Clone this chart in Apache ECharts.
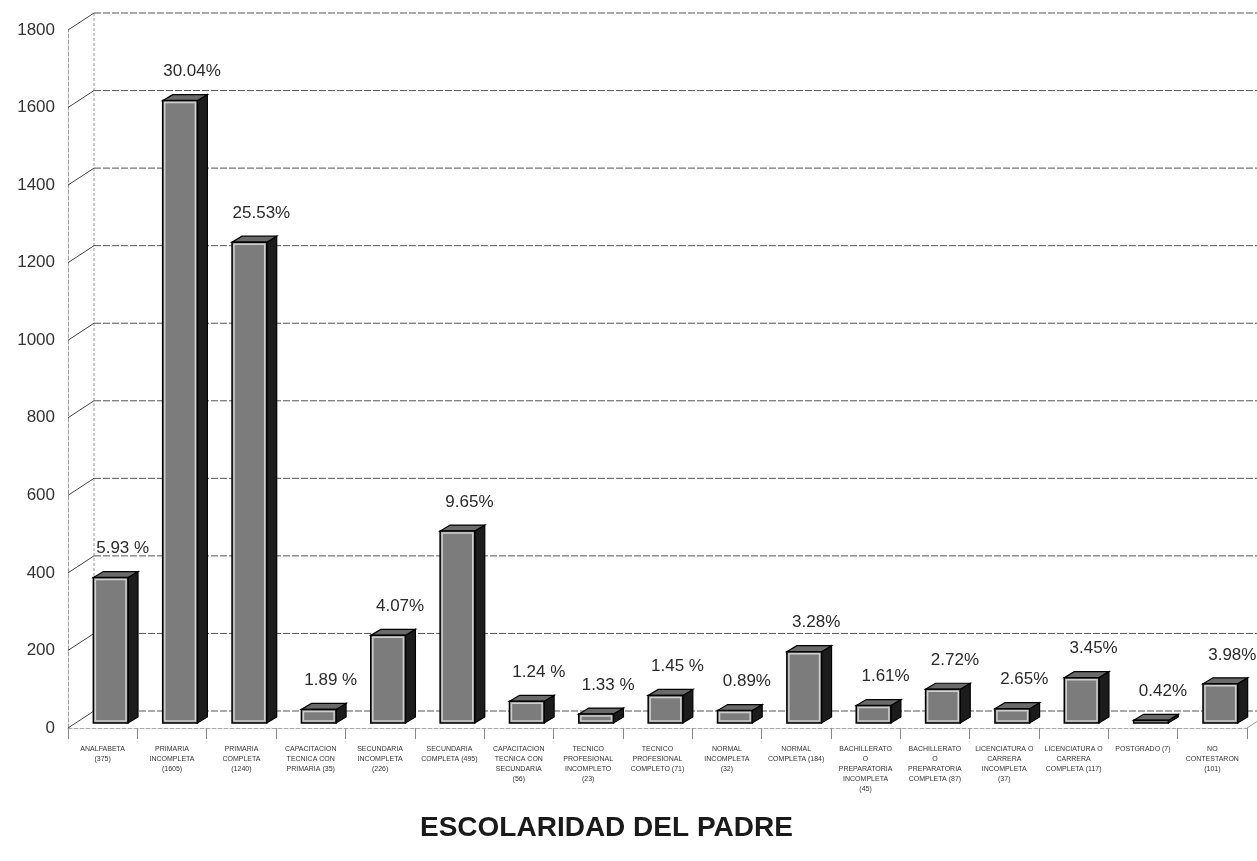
<!DOCTYPE html>
<html><head><meta charset="utf-8">
<script src="https://cdn.jsdelivr.net/npm/echarts@6/dist/echarts.min.js"></script>
<style>html,body{margin:0;padding:0;background:#fff}#c{width:1257px;height:861px}</style>
</head><body><div id="c"></div>
<script>
const categories = [
  "ANALFABETA\n(375)",
  "PRIMARIA\nINCOMPLETA\n(1605)",
  "PRIMARIA\nCOMPLETA\n(1240)",
  "CAPACITACION\nTECNICA CON\nPRIMARIA (35)",
  "SECUNDARIA\nINCOMPLETA\n(226)",
  "SECUNDARIA\nCOMPLETA (495)",
  "CAPACITACION\nTECNICA CON\nSECUNDARIA\n(56)",
  "TECNICO\nPROFESIONAL\nINCOMPLETO\n(23)",
  "TECNICO\nPROFESIONAL\nCOMPLETO (71)",
  "NORMAL\nINCOMPLETA\n(32)",
  "NORMAL\nCOMPLETA (184)",
  "BACHILLERATO\nO\nPREPARATORIA\nINCOMPLETA\n(45)",
  "BACHILLERATO\nO\nPREPARATORIA\nCOMPLETA (87)",
  "LICENCIATURA O\nCARRERA\nINCOMPLETA\n(37)",
  "LICENCIATURA O\nCARRERA\nCOMPLETA (117)",
  "POSTGRADO (7)",
  "NO\nCONTESTARON\n(101)"
];
const values = [375, 1605, 1240, 35, 226, 495, 56, 23, 71, 32, 184, 45, 87, 37, 117, 7, 101];
const percentLabels = ["5.93 %", "30.04%", "25.53%", "1.89 %", "4.07%", "9.65%", "1.24 %", "1.33 %", "1.45 %", "0.89%", "3.28%", "1.61%", "2.72%", "2.65%", "3.45%", "0.42%", "3.98%"];
const yTicks = [0, 200, 400, 600, 800, 1000, 1200, 1400, 1600, 1800];
const chartTitle = "ESCOLARIDAD DEL PADRE";

const WALL_DX = 26, WALL_DY = -17;
const FONT = '"Liberation Sans", Arial, sans-serif';
const chart = echarts.init(document.getElementById('c'));

function wallItem(params, api) {
  const t = api.value(1);
  const p = api.coord([0, t]);
  const band = api.size([1, 0])[0];
  const cs = params.coordSys;
  const xl = p[0] - band / 2;
  const children = [];
  const lineStyle = { stroke: '#555', lineWidth: 1, lineDash: [7, 2] };
  children.push({ type: 'line', shape: { x1: xl, y1: p[1], x2: xl + WALL_DX, y2: p[1] + WALL_DY }, style: { stroke: '#444', lineWidth: 1 } });
  children.push({ type: 'line', shape: { x1: xl + WALL_DX, y1: p[1] + WALL_DY, x2: cs.x + cs.width + 30, y2: p[1] + WALL_DY }, style: lineStyle });
  if (t === 0) {
    const pTop = api.coord([0, yTicks[yTicks.length - 1]]);
    children.push({ type: 'line', shape: { x1: xl + WALL_DX, y1: pTop[1] + WALL_DY, x2: xl + WALL_DX, y2: p[1] + WALL_DY }, style: { stroke: '#999', lineWidth: 1, lineDash: [3, 2] } });
    const xr = cs.x + cs.width;
    children.push({ type: 'line', shape: { x1: xr, y1: p[1], x2: xr + WALL_DX, y2: p[1] + WALL_DY }, style: { stroke: '#999', lineWidth: 1 } });
  }
  return { type: 'group', children };
}

function barItem(params, api) {
  const i = api.value(0), v = api.value(1);
  const top = api.coord([i, v]);
  const base = api.coord([i, 0]);
  const band = api.size([1, 0])[0];
  const w = band * 0.5;
  const ox = 8, oy = -5, dx = 10, dy = -6;
  const x0 = top[0] + ox - w / 2, x1 = x0 + w;
  const yT = top[1] + oy, yB = base[1] + oy;
  const h = yB - yT;
  const children = [
    { type: 'polygon', shape: { points: [[x1, yB], [x1, yT], [x1 + dx, yT + dy], [x1 + dx, yB + dy]] }, style: { fill: '#1c1c1c', stroke: '#000', lineWidth: 1.2 } },
    { type: 'polygon', shape: { points: [[x0, yT], [x1, yT], [x1 + dx, yT + dy], [x0 + dx, yT + dy]] }, style: { fill: '#6a6a6a', stroke: '#000', lineWidth: 1.2 } },
    { type: 'rect', shape: { x: x0, y: yT, width: w, height: h }, style: { fill: '#7c7c7c', stroke: '#000', lineWidth: 1.5 } }
  ];
  if (h > 6) {
    children.push({ type: 'rect', shape: { x: x0 + 2, y: yT + 2, width: w - 4, height: h - 4 }, style: { fill: 'none', stroke: '#cfcfcf', lineWidth: 1.5 } });
  }
  children.push({ type: 'text', style: { text: percentLabels[i], x: x0 + w / 2 + 12, y: yT - 29, align: 'center', verticalAlign: 'middle', font: '17px ' + FONT, fill: '#2a2a2a' } });
  return { type: 'group', children };
}

chart.setOption({
  animation: false,
  backgroundColor: '#fff',
  graphic: [{
    type: 'text', x: 420, y: 828,
    style: { text: chartTitle, x: 0, y: 0, align: 'left', verticalAlign: 'middle', font: 'bold 28px ' + FONT, fill: '#1a1a1a' }
  }],
  grid: { left: 68, right: 10, top: 30, bottom: 133, containLabel: false },
  xAxis: {
    type: 'category', data: categories, boundaryGap: true,
    axisLine: { show: true, lineStyle: { color: '#aaa', type: 'dashed' } },
    axisTick: { show: true, length: 11, lineStyle: { color: '#888' } },
    axisLabel: { interval: 0, fontSize: 7, lineHeight: 10, color: '#333', margin: 16, fontFamily: FONT },
    splitLine: { show: false }
  },
  yAxis: {
    type: 'value', min: 0, max: 1800, interval: 200,
    axisLine: { show: true, lineStyle: { color: '#999', type: 'dashed' } },
    axisTick: { show: false },
    splitLine: { show: false },
    axisLabel: { fontSize: 17, color: '#333', margin: 13, fontFamily: FONT, formatter: v => String(v) }
  },
  series: [
    { type: 'custom', name: 'wall', renderItem: wallItem, data: yTicks.map(t => [0, t]), z: 1, silent: true },
    { type: 'custom', name: 'bars', renderItem: barItem, data: values.map((v, i) => [i, v]), z: 5 }
  ]
});
</script></body></html>
